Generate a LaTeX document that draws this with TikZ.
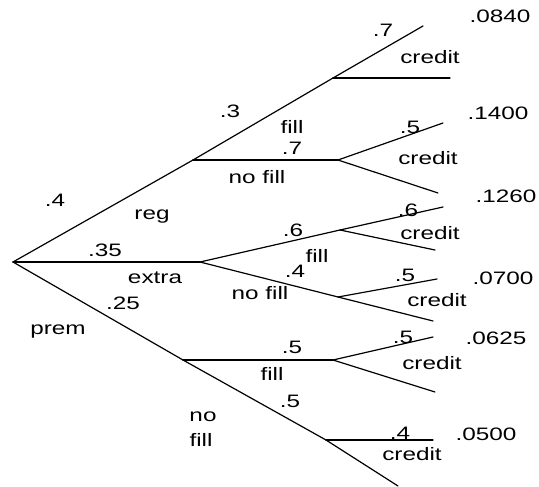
\documentclass[tikz,border=0pt]{standalone}
\usepackage{fontspec}
\setmainfont[FakeStretch=1.35]{Liberation Sans}
\usepackage{tikz}
\usetikzlibrary{positioning}

\begin{document}
\begin{tikzpicture}[
    x=1bp, y=-1bp,
    branch/.style={line width=1.2bp, black, line cap=round},
    lbl/.style={inner sep=0pt, text height=13bp, text depth=0pt,
        font=\fontsize{18bp}{20bp}\selectfont}
]
    \useasboundingbox (0,0) rectangle (539,487);

    % tree points
    \coordinate (root) at (13,262);
    \coordinate (reg) at (193,160);
    \coordinate (regfill) at (333,78);
    \coordinate (regfillC) at (423,26);
    \coordinate (regfillN) at (450,78);
    \coordinate (regno) at (338,160);
    \coordinate (regnoC) at (443,123);
    \coordinate (regnoN) at (438,193);
    \coordinate (extra) at (200,262);
    \coordinate (exfill) at (340,230);
    \coordinate (exfillC) at (443,207);
    \coordinate (exfillN) at (435,250);
    \coordinate (exno) at (338,297);
    \coordinate (exnoC) at (437,279);
    \coordinate (exnoN) at (433,321);
    \coordinate (prem) at (183,360);
    \coordinate (prfill) at (333,360);
    \coordinate (prfillC) at (433,337);
    \coordinate (prfillN) at (435,392);
    \coordinate (prno) at (326,440);
    \coordinate (prnoC) at (433,440);
    \coordinate (prnoN) at (398,486);

    \draw[branch] (root) -- (reg);
    \draw[branch] (root) -- (extra);
    \draw[branch] (root) -- (prem);
    \draw[branch] (reg) -- (regfill);
    \draw[branch] (reg) -- (regno);
    \draw[branch] (regfill) -- (regfillC);
    \draw[branch] (regfill) -- (regfillN);
    \draw[branch] (regno) -- (regnoC);
    \draw[branch] (regno) -- (regnoN);
    \draw[branch] (extra) -- (exfill);
    \draw[branch] (extra) -- (exno);
    \draw[branch] (exfill) -- (exfillC);
    \draw[branch] (exfill) -- (exfillN);
    \draw[branch] (exno) -- (exnoC);
    \draw[branch] (exno) -- (exnoN);
    \draw[branch] (prem) -- (prfill);
    \draw[branch] (prem) -- (prno);
    \draw[branch] (prfill) -- (prfillC);
    \draw[branch] (prfill) -- (prfillN);
    \draw[branch] (prno) -- (prnoC);
    \draw[branch] (prno) -- (prnoN);

    % first stage
    \node[lbl] (pReg) at (55,200) {.4};
    \node[lbl] (lReg) at (152,213) {reg};
    \node[lbl] (pExtra) at (105,250) {.35};
    \node[lbl] (lExtra) at (155,277) {extra};
    \node[lbl] (pPrem) at (123,303) {.25};
    \node[lbl] (lPrem) at (58,328) {prem};

    % reg
    \node[lbl] (pRegFill) at (230,111) {.3};
    \node[lbl] (lRegFill) at (292,127) {fill};
    \node[lbl] (pRegNo) at (292,148) {.7};
    \node[lbl] (lRegNo) at (257,177) {no fill};
    \node[lbl] (pRegFillC) at (383,30) {.7};
    \node[lbl] (lRegFillC) at (430,57) {credit};
    \node[lbl] (vRegFill) at (500,16) {.0840};
    \node[lbl] (pRegNoC) at (410,127) {.5};
    \node[lbl] (lRegNoC) at (428,158) {credit};
    \node[lbl] (vRegNo) at (498,113) {.1400};

    % extra
    \node[lbl] (vExFill) at (506,196) {.1260};
    \node[lbl] (pExFill) at (293,230) {.6};
    \node[lbl] (lExFill) at (317,256) {fill};
    \node[lbl] (pExNo) at (295,271) {.4};
    \node[lbl] (lExNo) at (260,293) {no fill};
    \node[lbl] (pExFillC) at (408,210) {.6};
    \node[lbl] (lExFillC) at (430,233) {credit};
    \node[lbl] (pExNoC) at (405,275) {.5};
    \node[lbl] (lExNoC) at (437,300) {credit};
    \node[lbl] (vExNo) at (503,278) {.0700};

    % prem
    \node[lbl] (pPrFill) at (292,347) {.5};
    \node[lbl] (lPrFill) at (272,374) {fill};
    \node[lbl] (pPrFillC) at (403,337) {.5};
    \node[lbl] (lPrFillC) at (432,363) {credit};
    \node[lbl] (vPrFill) at (496,338) {.0625};
    \node[lbl] (pPrNo) at (290,401) {.5};
    \node[lbl] (lPrNoA) at (203,415) {no};
    \node[lbl] (lPrNoB) at (201,440) {fill};
    \node[lbl] (pPrNoC) at (400,433) {.4};
    \node[lbl] (lPrNoC) at (412,454) {credit};
    \node[lbl] (vPrNo) at (486,434) {.0500};
\end{tikzpicture}
\end{document}
